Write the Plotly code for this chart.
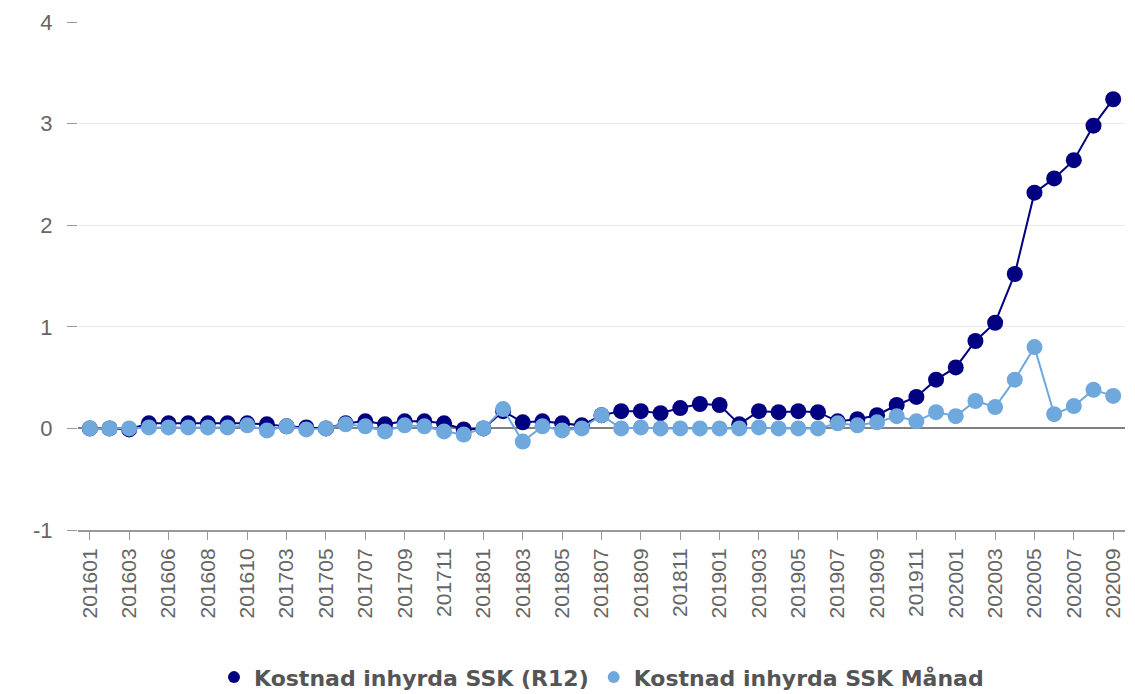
import plotly.graph_objects as go

months = [
    "201601", "201602", "201603", "201605", "201606", "201607", "201608", "201609",
    "201610", "201612", "201703", "201704", "201705", "201706", "201707", "201708",
    "201709", "201710", "201711", "201712",
    "201801", "201802", "201803", "201804", "201805", "201806", "201807", "201808",
    "201809", "201810", "201811", "201812",
    "201901", "201902", "201903", "201904", "201905", "201906", "201907", "201908",
    "201909", "201910", "201911", "201912",
    "202001", "202002", "202003", "202004", "202005", "202006", "202007", "202008",
    "202009",
]

tick_labels = [
    "201601", "201603", "201606", "201608", "201610", "201703", "201705", "201707",
    "201709", "201711", "201801", "201803", "201805", "201807", "201809", "201811",
    "201901", "201903", "201905", "201907", "201909", "201911", "202001", "202003",
    "202005", "202007", "202009",
]

y_ticks = [-1, 0, 1, 2, 3, 4]
y_tick_text = ["-1", "0", "1", "2", "3", "4"]

r12 = [
    0.00, 0.00, -0.01, 0.05, 0.05, 0.05, 0.05, 0.05, 0.05, 0.04,
    0.02, 0.01, 0.00, 0.05, 0.07, 0.04, 0.07, 0.07, 0.05, -0.01,
    0.00, 0.17, 0.06, 0.07, 0.05, 0.03, 0.13, 0.17, 0.17, 0.15,
    0.20, 0.24, 0.23, 0.04, 0.17, 0.16, 0.17, 0.16, 0.07, 0.09,
    0.13, 0.23, 0.31, 0.48, 0.60, 0.86, 1.04, 1.52, 2.32, 2.46,
    2.64, 2.98, 3.24,
]

manad = [
    0.00, 0.00, 0.00, 0.01, 0.01, 0.01, 0.01, 0.01, 0.03, -0.02,
    0.02, -0.01, 0.00, 0.04, 0.02, -0.03, 0.03, 0.02, -0.03, -0.06,
    0.00, 0.19, -0.13, 0.02, -0.02, 0.00, 0.13, 0.00, 0.01, 0.00,
    0.00, 0.00, 0.00, 0.00, 0.01, 0.00, 0.00, 0.00, 0.05, 0.03,
    0.06, 0.12, 0.07, 0.16, 0.12, 0.27, 0.21, 0.48, 0.80, 0.14,
    0.22, 0.38, 0.32,
]

series_names = ["Kostnad inhyrda SSK (R12)", "Kostnad inhyrda SSK Månad"]
colors = ["#000080", "#6fa8dc"]

fig = go.Figure()
for name, vals, col in zip(series_names, [r12, manad], colors):
    fig.add_trace(go.Scatter(
        x=months, y=vals, name=name, mode="lines+markers",
        line=dict(color=col, width=2),
        marker=dict(color=col, size=16, line=dict(width=0)),
        showlegend=False,
    ))
# legend entries showing only the marker symbol
for name, col in zip(series_names, colors):
    fig.add_trace(go.Scatter(
        x=[None], y=[None], name=name, mode="markers",
        marker=dict(color=col, size=18), showlegend=True,
    ))

fig.update_layout(
    width=1135, height=694,
    margin=dict(l=78, r=10, t=22, b=164, autoexpand=False),
    plot_bgcolor="white", paper_bgcolor="white",
    font=dict(family="Liberation Sans, Arial, sans-serif", color="#666666"),
    showlegend=True,
    legend=dict(
        orientation="h", x=0.5, xanchor="center", y=-0.29,
        yanchor="middle", font=dict(size=22, color="#555555", weight="bold",
                                    family="DejaVu Sans, sans-serif"),
        itemsizing="constant", traceorder="normal", itemwidth=30,
    ),
)

fig.update_xaxes(
    type="category", categoryorder="array", categoryarray=months,
    range=[-0.6, len(months) - 0.4], automargin=False,
    tickmode="array", tickvals=tick_labels, ticktext=tick_labels,
    tickangle=-90, tickfont=dict(size=21, color="#666666"),
    ticks="outside", ticklen=8, tickcolor="#999999",
    showline=True, linecolor="#999999", linewidth=2,
    showgrid=False, zeroline=False,
)
fig.update_yaxes(
    range=[-1, 4], tickmode="array", tickvals=y_ticks, ticktext=y_tick_text,
    automargin=False, ticklabelstandoff=10,
    tickfont=dict(size=22, color="#666666"),
    ticks="outside", ticklen=10, tickcolor="#999999",
    showgrid=True, gridcolor="#e8e8e8", gridwidth=1,
    zeroline=True, zerolinecolor="#808080", zerolinewidth=1.5,
    showline=False,
)

fig.write_html(
    "out.html",
    config={"displayModeBar": False},
    post_script="document.body.style.margin='0';",
)
